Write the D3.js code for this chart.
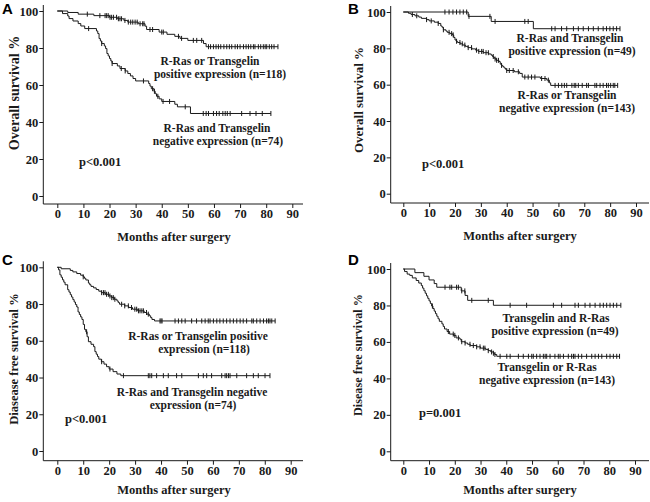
<!DOCTYPE html>
<html><head><meta charset="utf-8">
<script src="https://cdn.jsdelivr.net/npm/d3@7/dist/d3.min.js"></script>
<style>html,body{margin:0;padding:0;background:#fff;}</style>
</head><body>
<svg id="chart" width="650" height="502"></svg>
<script>
// ---------- DATA ----------
const xTicks = [0,10,20,30,40,50,60,70,80,90];
const yTicks = [0,20,40,60,80,100];
const panelLetters = ["A","B","C","D"];
const yTitles = ["Overall survival %","Overall survival %","Diasease free survival %","Disease free survival %"];
const xTitle = "Months after surgery";
const pTexts = ["p<0.001","p<0.001","p<0.001","p=0.001"];

// Panel A
const aPosSteps = [[4,99.2],[8,98.3],[14,97.5],[20,96.6],[23,95.8],[25.5,94.9],[27,94],[31,93.1],[33.6,91.8],[34.2,90],[39,88.6],[42,87.4],[45,86.3],[47,85.2],[50,84.1],[56,82.4],[57,80.7]];
const aPosCens = [11.5,16.3,18.3,18.9,19.5,20.2,20.8,21.5,22.7,23.4,24,24.6,25.9,27.2,28.1,28.9,29.8,30.6,31.7,32.7,33.2,35.5,36.5,40,40.6,46.4,47.6,52.1,53.4,55.3,57.9,58.7,59.8,60.8,61.7,62.6,63.8,64.9,65.9,66.8,68.1,69,70,71.3,72.3,73.2,74.1,75.1,75.7,77,77.9,78.9,79.6,80.2,81.2,82.1,83,84.5];
const aNegSteps = [[2,98.6],[4,97.3],[4.5,95.9],[6,94.6],[8,93.2],[9,91.9],[10.5,90.5],[15,89.2],[15.5,87.8],[16,85.1],[16.5,83.8],[17,82.4],[18,81.1],[18.5,79.7],[19,77],[19.5,75.7],[20,74.3],[20.5,73],[21,71.6],[23,70.3],[24,68.9],[26,67.6],[27,66.2],[28,64.9],[29,63.5],[30,62.2],[35,60.8],[35.5,59.4],[36,58],[37,56.6],[37.5,55.3],[38,53.9],[39,52.5],[40,51.1],[45,49.6],[46,48.2],[51,44.6]];
const aNegCens = [12,17,21,24.5,26,33,36.5,37.2,38.5,40.5,43,49,55.9,57,57.9,59.8,61,62,63.4,64.3,65.1,66.2,70.6,73.8,76.1,78.5,81.8];

// Panel B
const bPosSteps = [[25.1,97.6],[34,94.8],[50.3,90.8]];
const bPosCens = [16.1,17.7,19.2,20.6,21.9,23.2,24.5,25.4,33.5,35.5,47,48.3,57.4,58.7,61.2,63.2,65.8,67.7,69.6,71.6,73.5,75.4,77.3,78.6,79.9,81.2,82.5,83.8];
const bNegSteps = [[2,99.3],[3,98.6],[4.5,97.9],[6,97.2],[7,96.5],[9,95.8],[10,95.1],[12,94.4],[13.5,93.7],[14.5,92.3],[15,91.6],[15.5,90.2],[16.5,89.5],[17,88.8],[18,88.1],[19,87.4],[19.5,86],[20,84.6],[20.5,83.9],[21,83.2],[22,82.5],[23,81.8],[24,81.1],[25,80.4],[26.5,79.7],[28,79],[29,78.3],[31,77.6],[33,76.9],[34,76.2],[34.5,75.5],[35,74.8],[35.5,74.1],[36,73.4],[37,72.7],[37.5,71.3],[38,70.6],[38.5,69.9],[39,69.2],[39.5,68.5],[40,67.8],[43,67.1],[45,66.2],[46,64.2],[53,63.4],[55.5,62.5],[56.5,61],[57,59.6]];
const bNegCens = [3.5,5.2,9,10.8,13.5,15.5,17.7,18.7,19.3,20.6,21.9,22.8,23.8,25.1,26.4,28.3,29.2,30.3,30.9,32,32.9,34.8,35.5,36.1,36.8,38,40,41,42.5,44.5,47,48.3,49.6,50.9,53.5,54.8,56.1,58.7,60,61.3,62.3,63.2,65.2,66.1,66.7,67.7,69.2,70.9,71.6,74.1,74.8,76.1,77.3,78.6,79.3,80.2,81.2,81.8,82.9];

// Panel C
const cPosSteps = [[1.5,99.2],[5,98.3],[6,97.5],[7.5,96.6],[9,95.7],[10,94.8],[10.5,94],[11,93.1],[12,91.4],[12.5,90.5],[13,89.6],[14,88.8],[15,87.9],[16,87],[17,86.2],[18.5,85.3],[20,84.4],[21,83.5],[22,82.6],[23,81.7],[23.5,80.8],[24,79.9],[26,79],[27.5,78.1],[29,77.2],[31,76.3],[33.5,75.4],[34.5,74.5],[35.5,73.6],[36,72.6],[36.5,71.6],[37.5,70.8]];
const cPosCens = [10,17.1,17.8,18.4,19,19.7,20.3,21,21.6,22.2,24.8,26,27.4,28.6,29.9,30.6,31.3,31.9,32.6,33.2,34.4,35.1,39.6,40,40.4,45.4,46.7,48,49.3,51.8,53.7,55.7,57,58.2,58.9,60.2,61.5,62.7,64,65.3,66.6,67.9,69.2,70.5,71.7,73,75,75.6,76.9,78.2,79.5,80.7,81.4,82,82.7,84];
const cNegSteps = [[0.5,98.6],[1,95.9],[1.5,94.6],[2,93.2],[2.5,91.9],[3,90.5],[4,87.8],[4.5,86.5],[5,85.1],[5.5,83.8],[6,82.4],[6.5,81.1],[7,79.7],[7.5,78.4],[8,75.7],[8.5,74.3],[9,73],[9.5,71.6],[10,68.9],[10.5,66.2],[11,64.9],[11.5,62.2],[12,59.5],[13,58.1],[14,56.8],[14.5,54.1],[15,52.7],[15.5,51.4],[16,50],[17,48.6],[18,47.3],[19,45.9],[20,44.6],[21.5,43.2],[23,41.9],[24.5,41]];
const cNegCens = [11.3,17.1,20.3,25.5,35.1,35.7,36.4,38.3,40.9,42.8,46,48,54.4,56.3,57.6,59.5,63.4,64.7,65.3,66,66.6,69.2,73,75.6,77.5,80.1,82];

// Panel D
const dPosSteps = [[4.5,98],[8,96],[10,94],[12,92],[13,90],[22.5,88],[24,85.5],[25,82.8],[35,80.1]];
const dPosCens = [16.2,18.1,18.8,20.7,21.4,22.7,23.9,26.6,33,41.5,47.9,58.3,61.5,66.7,68,70.6,72.5,74.5,76.4,77.7,79,80.3,81.6,82.9,84.5];
const dNegSteps = [[0.5,98.6],[1.5,97.2],[2.5,96.5],[3.5,95.1],[5,93.7],[6,92.3],[7,90.9],[7.5,89.5],[8,88.1],[8.5,86.7],[9,85.3],[9.5,83.9],[10,82.5],[10.5,81.1],[11,79.7],[11.5,78.3],[12,76.9],[12.5,75.5],[13,74.1],[13.5,72.7],[14,71.3],[15,69.9],[15.5,68.5],[16,67.1],[17,65.7],[18,64.3],[19.5,63.6],[20.5,62.2],[22,61.5],[22.5,60.1],[24,59.4],[25,58.7],[26,58],[28.5,57.3],[30,56.6],[32,55.9],[33,55.2],[34,54.5],[35,53.8],[35.5,53.1],[36.3,52.1]];
const dNegCens = [11.3,17.5,19.4,20,21.4,22.7,24,25.9,27.2,28.5,29.8,31.1,31.7,33,34.3,35,35.6,37.6,40.2,41.5,44.7,46.6,48.6,49.9,50.5,51.8,53.1,54.4,55.1,55.7,57,58.9,60.2,60.9,62.2,64.1,65.4,66.1,66.7,68,69.3,71.2,73.2,74.5,75.8,77.1,79,80.3,81.6,82.9,84];

const labelsA = [["R-Ras or Transgelin","positive expression (n=118)"],["R-Ras and Transgelin","negative expression (n=74)"]];
const labelsB = [["R-Ras and Transgelin","positive expression (n=49)"],["R-Ras or Transgelin","negative expression (n=143)"]];
const labelsC = [["R-Ras or Transgelin positive","expression (n=118)"],["R-Ras and Transgelin negative","expression (n=74)"]];
const labelsD = [["Transgelin and R-Ras","positive expression (n=49)"],["Transgelin or R-Ras","negative expression (n=143)"]];

// ---------- LAYOUT ----------
const SERIF = "'Liberation Serif','Times New Roman',serif";
const SANS = "'Liberation Sans',Arial,sans-serif";
const INK = "#1a1a1a";
const LABEL_SIZE = 11.5, LABEL_GAP = 13;

const panels = [
  {letter:panelLetters[0], letterPos:[2,14], x0:57.3, x90:292.3, y0:196, y100:11, spineX:43.3, axisY:204, axisEnd:303,
   yTitle:yTitles[0], yTitleSize:14, yTitlePos:[14,93], xTitlePos:[174,241], p:pTexts[0], pPos:[79,166],
   series:[{steps:aPosSteps,cens:aPosCens},{steps:aNegSteps,cens:aNegCens}],
   labels:labelsA, labelPos:[[[210,64.5],[220]],[[217,131.5],[218]]]},
  {letter:panelLetters[1], letterPos:[348,14], x0:403.3, x90:636, y0:193.7, y100:12, spineX:390.7, axisY:203, axisEnd:649,
   yTitle:yTitles[1], yTitleSize:13, yTitlePos:[358,100], xTitlePos:[520,240], p:pTexts[1], pPos:[422,168],
   series:[{steps:bPosSteps,cens:bPosCens},{steps:bNegSteps,cens:bNegCens}],
   labels:labelsB, labelPos:[[[570,41.5],[572]],[[567,99],[567]]]},
  {letter:panelLetters[2], letterPos:[2,265], x0:57.3, x90:290.7, y0:451, y100:267.3, spineX:43.3, axisY:460.7, axisEnd:303,
   yTitle:yTitles[2], yTitleSize:12.5, yTitlePos:[14,359], xTitlePos:[174,494], p:pTexts[2], pPos:[65,423],
   series:[{steps:cPosSteps,cens:cPosCens},{steps:cNegSteps,cens:cNegCens}],
   labels:labelsC, labelPos:[[[198,339.5],[204]],[[192,395.5],[193]]]},
  {letter:panelLetters[3], letterPos:[348,265], x0:403.3, x90:635, y0:451.3, y100:269, spineX:390.7, axisY:460.7, axisEnd:649,
   yTitle:yTitles[3], yTitleSize:12.2, yTitlePos:[358,355], xTitlePos:[520,494], p:pTexts[3], pPos:[419,417],
   series:[{steps:dPosSteps,cens:dPosCens},{steps:dNegSteps,cens:dNegCens}],
   labels:labelsD, labelPos:[[[556,321.5],[555]],[[547,370.5],[547]]]}
];

const svg = d3.select("#chart");

function survAt(steps, t){
  let s = 100;
  for (const [st, sv] of steps){ if (st <= t) s = sv; else break; }
  return s;
}

panels.forEach(P => {
  const g = svg.append("g");
  const x = d3.scaleLinear().domain([0,90]).range([P.x0, P.x90]);
  const y = d3.scaleLinear().domain([0,100]).range([P.y0, P.y100]);

  // spines
  g.append("line").attr("x1",P.spineX).attr("x2",P.spineX).attr("y1",P.axisY).attr("y2",P.y100-6)
    .attr("stroke",INK).attr("stroke-width",1);
  g.append("line").attr("x1",P.spineX).attr("x2",P.axisEnd).attr("y1",P.axisY).attr("y2",P.axisY)
    .attr("stroke",INK).attr("stroke-width",1);

  // axes
  const ya = g.append("g").attr("transform",`translate(${P.spineX},0)`)
    .call(d3.axisLeft(y).tickValues(yTicks).tickSize(4).tickPadding(1).tickSizeOuter(0));
  const xa = g.append("g").attr("transform",`translate(0,${P.axisY})`)
    .call(d3.axisBottom(x).tickValues(xTicks).tickSize(4).tickPadding(1).tickSizeOuter(0));
  [ya, xa].forEach(a => {
    a.select(".domain").remove();
    a.selectAll("line").attr("stroke",INK);
    a.selectAll("text").attr("font-family",SERIF).attr("font-weight","bold").attr("font-size",12.5).attr("fill",INK);
  });

  // curves
  const line = d3.line().x(d=>x(d[0])).y(d=>y(d[1])).curve(d3.curveStepAfter);
  P.series.forEach(S => {
    const last = S.steps[S.steps.length-1];
    const tEnd = Math.max(last[0], d3.max(S.cens));
    const pts = [[0,100], ...S.steps, [tEnd, last[1]]];
    g.append("path").datum(pts).attr("d",line).attr("fill","none").attr("stroke",INK).attr("stroke-width",1);
    g.selectAll(null).data(S.cens).enter().append("line")
      .attr("x1",d=>x(d)).attr("x2",d=>x(d))
      .attr("y1",d=>y(survAt(S.steps,d))-2.5).attr("y2",d=>y(survAt(S.steps,d))+2.5)
      .attr("stroke",INK).attr("stroke-width",1);
  });

  // texts
  g.append("text").attr("x",P.letterPos[0]).attr("y",P.letterPos[1]).text(P.letter)
    .attr("font-family",SANS).attr("font-weight","bold").attr("font-size",15).attr("fill","#000");
  g.append("text").attr("transform",`translate(${P.yTitlePos[0]},${P.yTitlePos[1]}) rotate(-90)`)
    .attr("text-anchor","middle").attr("dy","0.35em").text(P.yTitle)
    .attr("font-family",SERIF).attr("font-weight","bold").attr("font-size",P.yTitleSize).attr("fill",INK);
  g.append("text").attr("x",P.xTitlePos[0]).attr("y",P.xTitlePos[1]).attr("text-anchor","middle").text(xTitle)
    .attr("font-family",SERIF).attr("font-weight","bold").attr("font-size",12.5).attr("fill",INK);
  g.append("text").attr("x",P.pPos[0]).attr("y",P.pPos[1]).text(P.p)
    .attr("font-family",SERIF).attr("font-weight","bold").attr("font-size",12.5).attr("fill",INK);
  P.labels.forEach((lines, i) => {
    const y1 = P.labelPos[i][0][1];
    lines.forEach((txt, j) => {
      g.append("text").attr("x",P.labelPos[i][j][0]).attr("y",y1 + j*LABEL_GAP).attr("text-anchor","middle").text(txt)
        .attr("font-family",SERIF).attr("font-weight","bold").attr("font-size",LABEL_SIZE).attr("fill",INK);
    });
  });
});
</script>
</body></html>
